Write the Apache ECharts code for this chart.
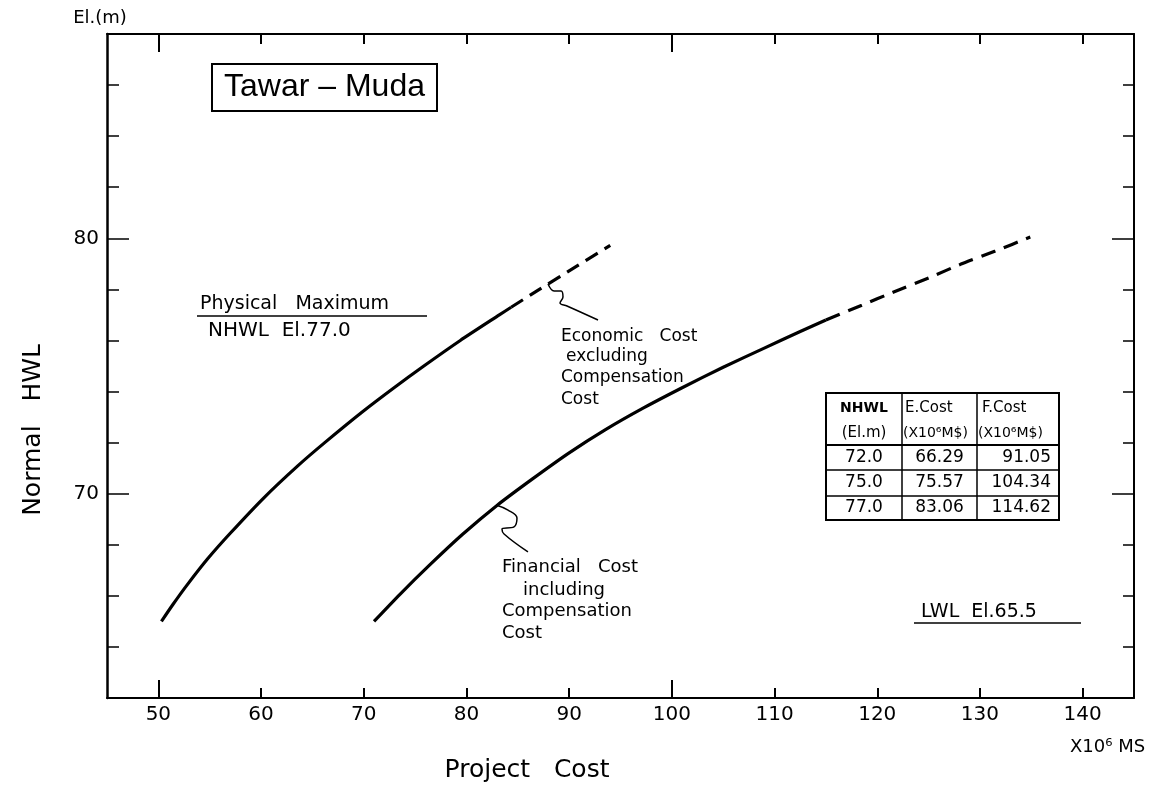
<!DOCTYPE html>
<html>
<head>
<meta charset="utf-8">
<script src="https://cdn.jsdelivr.net/npm/echarts@6/dist/echarts.min.js"></script>
<style>
html,body{margin:0;padding:0;background:#fff;}
#c{width:1173px;height:789px;}
</style>
</head>
<body>
<div id="c"></div>
<script>
// ---- data ----
const xLabelValues = [50, 60, 70, 80, 90, 100, 110, 120, 130, 140];
const xShortTicks = [60, 70, 80, 90, 110, 120, 130, 140];
const xLongTicks = [50, 100];
const yLabelValues = [70, 80];
const yLongTicks = [70, 80];

// Economic cost excluding compensation cost  [cost x10^6, NHWL El.m]
const econSolid = [[50.3,65.0],[51.4,65.65],[52.75,66.4],[54.8,67.45],[57.0,68.45],[60.3,69.85],[63.6,71.1],[66.2,72.0],[69.85,73.2],[72.95,74.15],[75.85,75.0],[79.4,76.0],[83.2,77.0],[84.35,77.3]];
const econDashed = [[84.35,77.3],[87.1,78.0],[90.7,78.9],[94.0,79.72]];
// Financial cost including compensation cost
const finSolid = [[71.0,65.0],[73.5,66.05],[76.4,67.2],[79.6,68.4],[83.0,69.55],[86.5,70.6],[90.0,71.6],[93.5,72.5],[97.2,73.35],[101.0,74.15],[105.0,74.95],[109.0,75.7],[112.5,76.35],[115.0,76.8]];
const finDashed = [[115.0,76.8],[118.5,77.38],[121.6,77.9],[125.0,78.45],[128.1,78.98],[131.5,79.5],[134.9,80.05]];
// leader squiggles (data space)
const econPointer = [[87.94,78.21],[88.53,77.94],[89.21,77.94],[89.40,77.70],[89.11,77.47],[89.79,77.35],[92.81,76.80]];
const finPointer = [[82.88,69.56],[84.05,69.36],[84.92,69.05],[84.63,68.70],[83.46,68.62],[83.66,68.42],[85.99,67.72]];

// table
const tableHead1 = ['NHWL', 'E.Cost', 'F.Cost'];
const tableHead2 = ['(El.m)', '(X10\u2076M$)', '(X10\u2076M$)'];
const tableLevels = ['72.0', '75.0', '77.0'];
const tableECost = ['66.29', '75.57', '83.06'];
const tableFCost = ['91.05', '104.34', '114.62'];

// ---- layout / style ----
const FF = 'DejaVu Sans';
const chart = echarts.init(document.getElementById('c'), null, {renderer: 'canvas'});

function txt(x, y, text, size, opts) {
  opts = opts || {};
  const st = {
    text: text, fontSize: size, fontFamily: opts.family || FF, fill: '#000',
    fontWeight: opts.weight || 'normal',
    align: opts.align || 'left', textAlign: opts.align || 'left',
    verticalAlign: 'middle', textVerticalAlign: 'middle'
  };
  return {type: 'text', x: x, y: y, rotation: opts.rotation || 0, z: 10, style: st};
}
function hline(x1, x2, y, w) {
  return {type: 'line', z: 10, shape: {x1: x1, y1: y, x2: x2, y2: y}, style: {stroke: '#000', lineWidth: w || 1.5}};
}
function vline(x, y1, y2, w) {
  return {type: 'line', z: 10, shape: {x1: x, y1: y1, x2: x, y2: y2}, style: {stroke: '#000', lineWidth: w || 1.5}};
}

// table graphics
const colX = [826, 902, 977, 1059];
const rowY = [393, 445, 470, 496, 520];
const tableEls = [];
tableEls.push({type: 'rect', z: 10, shape: {x: colX[0], y: rowY[0], width: colX[3] - colX[0], height: rowY[4] - rowY[0]}, style: {fill: 'none', stroke: '#000', lineWidth: 2}});
tableEls.push(vline(colX[1], rowY[0], rowY[4], 1.5));
tableEls.push(vline(colX[2], rowY[0], rowY[4], 1.5));
tableEls.push(hline(colX[0], colX[3], rowY[1], 2));
tableEls.push(hline(colX[0], colX[3], rowY[2], 1.5));
tableEls.push(hline(colX[0], colX[3], rowY[3], 1.5));
tableEls.push(txt((colX[0] + colX[1]) / 2, 408, tableHead1[0], 14, {align: 'center', weight: 'bold'}));
tableEls.push(txt(905, 408, tableHead1[1], 15, {}));
tableEls.push(txt(982, 408, tableHead1[2], 15, {}));
tableEls.push(txt((colX[0] + colX[1]) / 2, 433, tableHead2[0], 15, {align: 'center'}));
tableEls.push(txt(903, 433, tableHead2[1], 14, {}));
tableEls.push(txt(978, 433, tableHead2[2], 14, {}));
for (let i = 0; i < tableLevels.length; i++) {
  const cy = (rowY[i + 1] + rowY[i + 2]) / 2;
  tableEls.push(txt((colX[0] + colX[1]) / 2, cy, tableLevels[i], 17, {align: 'center'}));
  tableEls.push(txt((colX[1] + colX[2]) / 2, cy, tableECost[i], 17, {align: 'center'}));
  tableEls.push(txt(colX[3] - 8, cy, tableFCost[i], 17, {align: 'right'}));
}

const graphics = [
  txt(200, 304, 'Physical   Maximum', 19),
  hline(197, 427, 316, 1.5),
  txt(208, 331, 'NHWL  El.77.0', 20),
  txt(561, 337, 'Economic   Cost', 17),
  txt(566, 357, 'excluding', 17),
  txt(561, 378, 'Compensation', 17),
  txt(561, 400, 'Cost', 17),
  txt(502, 567, 'Financial   Cost', 18),
  txt(523, 590, 'including', 18),
  txt(502, 611, 'Compensation', 18),
  txt(502, 633, 'Cost', 18),
  txt(921, 612, 'LWL  El.65.5', 19),
  hline(914, 1081, 623, 1.5),
  txt(1070, 747, 'X10\u2076 MS', 18),
  txt(527, 770, 'Project   Cost', 25, {align: 'center'}),
  txt(33, 430, 'Normal   HWL', 25, {align: 'center', rotation: Math.PI / 2})
].concat(tableEls);

function xAx(pos, ticks, len, showLine, showLabel) {
  return {
    type: 'value', min: 45, max: 145, interval: 5, position: pos,
    axisLine: {show: showLine, onZero: false, lineStyle: {color: '#000', width: 2}},
    axisTick: {show: true, inside: true, length: len, customValues: ticks, lineStyle: {color: '#000', width: 2}},
    axisLabel: {show: showLabel, customValues: xLabelValues, margin: 7, fontSize: 20, color: '#000', fontFamily: FF},
    splitLine: {show: false}
  };
}
function yAx(pos, ticks, len, showLine, showLabel, lineW, extra) {
  const ax = {
    type: 'value', min: 62, max: 88, interval: 2, position: pos,
    axisLine: {show: showLine, onZero: false, lineStyle: {color: '#000', width: lineW}},
    axisTick: {show: true, inside: true, length: len, lineStyle: {color: '#000', width: 1.5}},
    axisLabel: {show: showLabel, customValues: yLabelValues, margin: 8, fontSize: 20, color: '#000', fontFamily: FF},
    splitLine: {show: false}
  };
  if (ticks) ax.axisTick.customValues = ticks;
  return Object.assign(ax, extra || {});
}

const lineBase = {type: 'line', showSymbol: false, symbol: 'none', smooth: 0.2, xAxisIndex: 0, yAxisIndex: 0, silent: true};

const option = {
  backgroundColor: '#fff',
  animation: false,
  title: {
    text: 'Tawar \u2013 Muda', left: 212, top: 64, padding: [7, 12, 7, 12],
    borderColor: '#000', borderWidth: 2,
    textStyle: {fontSize: 32, fontWeight: 'normal', fontFamily: 'Liberation Sans', color: '#000', lineHeight: 33}
  },
  grid: {left: 107, right: 39, top: 34, bottom: 91, containLabel: false},
  xAxis: [
    xAx('bottom', xShortTicks, 10, true, true),
    xAx('bottom', xLongTicks, 18, false, false),
    xAx('top', xShortTicks, 10, true, false),
    xAx('top', xLongTicks, 18, false, false)
  ],
  yAxis: [
    yAx('left', null, 12, true, true, 2.5, {name: 'El.(m)', nameLocation: 'end', nameGap: 7,
      nameTextStyle: {fontSize: 18, fontFamily: FF, color: '#000', padding: [0, 14, 0, 0]}}),
    yAx('left', yLongTicks, 22, false, false, 2),
    yAx('right', null, 11, true, false, 2),
    yAx('right', yLongTicks, 22, false, false, 2)
  ],
  series: [
    Object.assign({}, lineBase, {data: econSolid, lineStyle: {color: '#000', width: 3.2}}),
    Object.assign({}, lineBase, {data: econDashed, lineStyle: {color: '#000', width: 3.2, type: [14, 8]}}),
    Object.assign({}, lineBase, {data: finSolid, lineStyle: {color: '#000', width: 3.2}}),
    Object.assign({}, lineBase, {data: finDashed, lineStyle: {color: '#000', width: 3.2, type: [15, 9]}}),
    Object.assign({}, lineBase, {data: econPointer, smooth: 0.4, lineStyle: {color: '#000', width: 1.5}}),
    Object.assign({}, lineBase, {data: finPointer, smooth: 0.4, lineStyle: {color: '#000', width: 1.5}})
  ],
  graphic: graphics
};
chart.setOption(option);
</script>
</body>
</html>
